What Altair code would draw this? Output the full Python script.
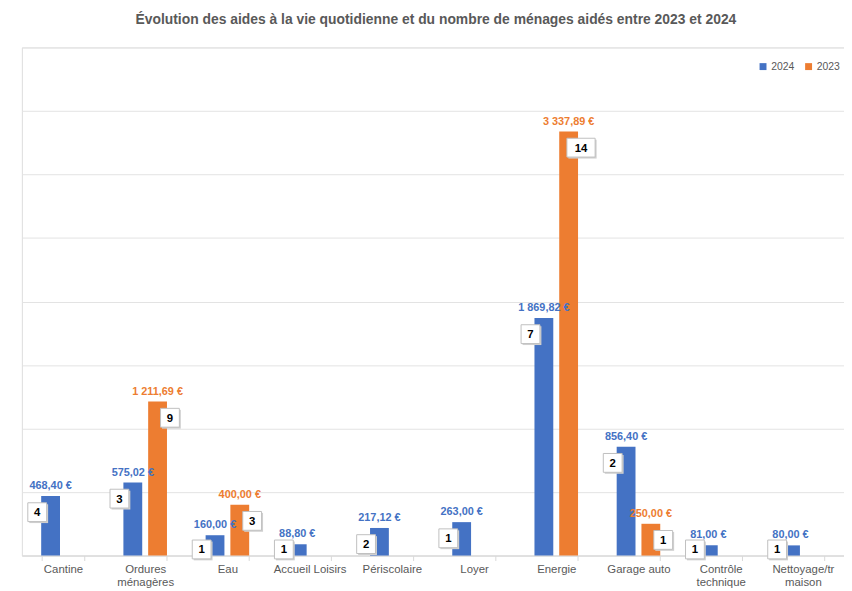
import json
import altair as alt
import pandas as pd

# ---- data ----
categories = ["Cantine", "Ordures ménagères", "Eau", "Accueil Loisirs", "Périscolaire",
              "Loyer", "Energie", "Garage auto", "Contrôle technique", "Nettoyage/tr maison"]
tick_labels = [["Cantine"], ["Ordures", "ménagères"], ["Eau"], ["Accueil Loisirs"], ["Périscolaire"],
               ["Loyer"], ["Energie"], ["Garage auto"], ["Contrôle", "technique"], ["Nettoyage/tr", "maison"]]
years = ["2024", "2023"]
montants_2024 = [468.40, 575.02, 160.00, 88.80, 217.12, 263.00, 1869.82, 856.40, 81.00, 80.00]
menages_2024 = [4, 3, 1, 1, 2, 1, 7, 2, 1, 1]
montants_2023 = [None, 1211.69, 400.00, None, None, None, 3337.89, 250.00, None, None]
menages_2023 = [None, 9, 3, None, None, None, 14, 1, None, None]
colors = ["#4472C4", "#ED7D31"]
title_text = "Évolution des aides à la vie quotidienne et du nombre de ménages aidés entre 2023 et 2024"


def fr_eur(v):
    s = f"{v:,.2f}".replace(",", " ").replace(".", ",")
    return s + " €"


rows = []
for yr, mts, mns in [("2024", montants_2024, menages_2024), ("2023", montants_2023, menages_2023)]:
    for c, m, n in zip(categories, mts, mns):
        if m is None:
            continue
        rows.append({"categorie": c, "annee": yr, "montant": m, "menages": n, "etiquette": fr_eur(m)})
df = pd.DataFrame(rows)

label_map = {c: l for c, l in zip(categories, tick_labels)}
label_expr = json.dumps(label_map, ensure_ascii=False) + "[datum.label]"

FONT = "Liberation Sans"
GREY = "#595959"

x_enc = alt.X("categorie:N", sort=categories,
              scale=alt.Scale(paddingInner=0.47, paddingOuter=0.235),
              axis=alt.Axis(title=None, labelAngle=0, labelExpr=label_expr, grid=False,
                            domainColor="#D9D9D9", tickColor="#D9D9D9", tickSize=5,
                            tickBand="extent", labelColor=GREY, labelFont=FONT,
                            labelFontSize=11.5, labelPadding=3, labelLineHeight=13))
y_scale = alt.Scale(domain=[0, 4000], nice=False)
y_axis = alt.Axis(title=None, labels=False, ticks=False, domain=False,
                  grid=True, gridColor="#E3E3E3", values=list(range(0, 4001, 500)),
                  minExtent=0, maxExtent=0)


def y_enc(field):
    return alt.Y(field, scale=y_scale, axis=y_axis, title=None)


base = alt.Chart(df)

bars = base.mark_bar().encode(
    x=x_enc,
    xOffset=alt.XOffset("annee:N", scale=alt.Scale(domain=years, paddingInner=0.24)),
    y=y_enc("montant:Q"),
    color=alt.Color("annee:N", scale=alt.Scale(domain=years, range=colors),
                    legend=alt.Legend(title=None, orient="none", legendX=743, legendY=14,
                                      direction="horizontal", symbolType="square",
                                      symbolSize=49, labelFontSize=10.5, labelColor=GREY,
                                      labelFont=FONT, columnPadding=9, labelOffset=3)),
)

layers = [bars]
for yr, col, bar_dx, box_dx in [("2024", colors[0], -12.5, -26), ("2023", colors[1], 12.5, 25)]:
    sub = base.transform_filter(alt.datum.annee == yr)
    layers.append(sub.mark_text(font=FONT, fontSize=11, fontWeight="bold", color=col,
                                baseline="bottom", dy=-5, xOffset=bar_dx).encode(
        x=x_enc,
        y=y_enc("montant:Q"),
        text="etiquette:N"))
    boxes = sub.transform_calculate(
        box_y="max(datum.montant - 127, 48)",
        shp="datum.menages >= 10 ? 'M-1.5,-1H1.5V1H-1.5Z' : 'M-1,-1H1V1H-1Z'")
    layers.append(boxes.mark_point(filled=True, fill="#D0D0D0", strokeWidth=0, opacity=1,
                                   size=361, xOffset=box_dx + 1.5, yOffset=1.5).encode(
        x=x_enc,
        y=y_enc("box_y:Q"),
        shape=alt.Shape("shp:N", scale=None, legend=None)))
    layers.append(boxes.mark_point(filled=True, fill="white", stroke="#BFBFBF", strokeWidth=1,
                                   opacity=1, fillOpacity=1, size=361, xOffset=box_dx).encode(
        x=x_enc,
        y=y_enc("box_y:Q"),
        shape=alt.Shape("shp:N", scale=None, legend=None)))
    layers.append(boxes.mark_text(font=FONT, fontSize=11.5, fontWeight="bold", color="#000000",
                                  baseline="middle", align="center", xOffset=box_dx, dy=1).encode(
        x=x_enc,
        y=y_enc("box_y:Q"),
        text="menages:Q"))

chart = alt.layer(*layers).properties(
    width=830, height=513,
    title=alt.TitleParams(title_text, font=FONT, fontSize=14, fontWeight="bold",
                          color=GREY, anchor="middle", offset=21, dx=3),
    padding={"left": 14, "top": 2, "right": 0, "bottom": 0},
).configure_view(strokeWidth=0, stroke="transparent").configure(font=FONT)

chart.save("out.html", embed_options={"renderer": "svg", "actions": False})
